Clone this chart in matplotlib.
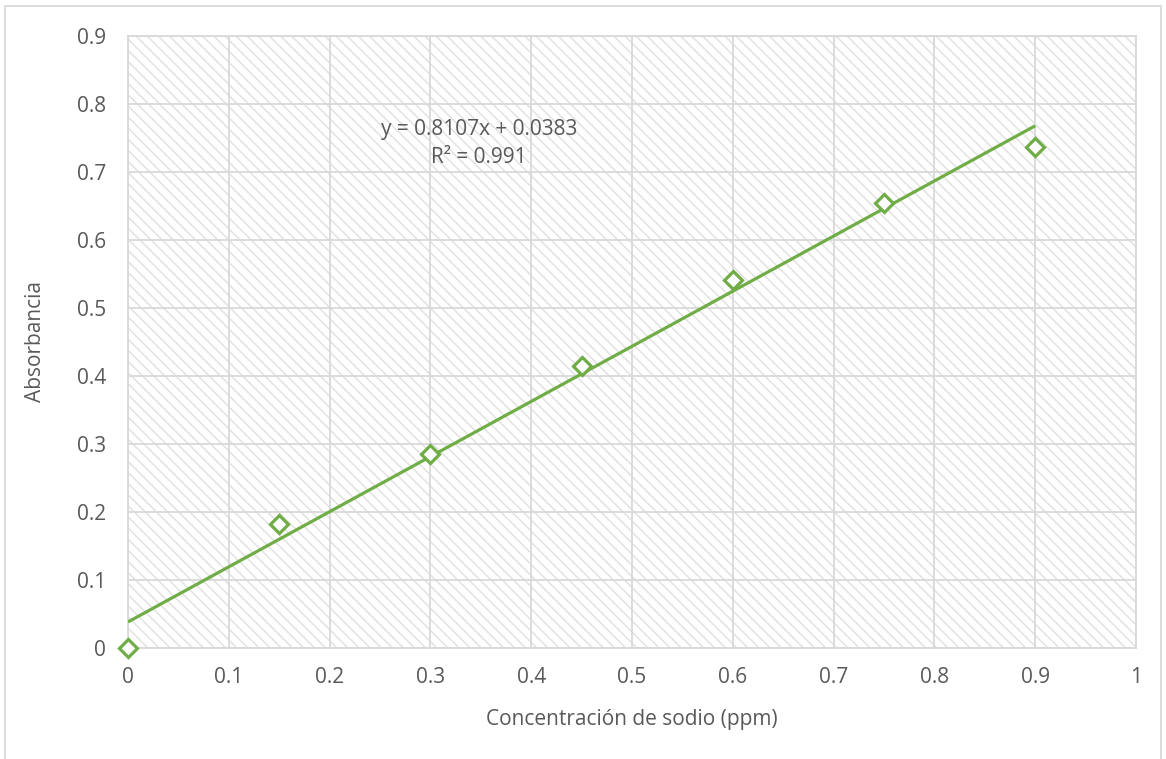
import numpy as np
import matplotlib.pyplot as plt
from matplotlib.patches import Rectangle

# Datos de la curva de calibración
concentracion = [0, 0.15, 0.3, 0.45, 0.6, 0.75, 0.9]
absorbancia = [0, 0.183, 0.286, 0.415, 0.541, 0.654, 0.737]

# Línea de tendencia (ajuste lineal)
pendiente = 0.8107
intercepto = 0.0383
r2 = 0.991

verde = '#70AD47'
gris_texto = '#595959'
gris_linea = '#D9D9D9'

plt.rcParams['font.family'] = ['Open Sans', 'DejaVu Sans']
plt.rcParams['hatch.linewidth'] = 1.1

fig = plt.figure(figsize=(11.66, 7.59), dpi=100)
ax = fig.add_axes([128 / 1166, 1 - 648 / 759, 1008 / 1166, 612 / 759])

# Marco exterior del gráfico
fig.patches.append(Rectangle((5 / 1166, -0.01), 1156 / 1166, 1 - 6 / 759 + 0.01,
                             transform=fig.transFigure, fill=False,
                             edgecolor=gris_linea, linewidth=1.3))

# Fondo rayado del área de trazado
ax.add_patch(Rectangle((0, 0), 1, 1, transform=ax.transAxes, facecolor='none',
                       edgecolor='#E2E2E2', hatch='\\\\\\', linewidth=0, zorder=0))

ax.set_xlim(0, 1)
ax.set_ylim(0, 0.9)
ax.set_xticks(np.arange(0, 1.01, 0.1))
ax.set_yticks(np.arange(0, 0.91, 0.1))
ax.set_xticklabels(['0', '0.1', '0.2', '0.3', '0.4', '0.5', '0.6', '0.7', '0.8', '0.9', '1'])
ax.set_yticklabels(['0', '0.1', '0.2', '0.3', '0.4', '0.5', '0.6', '0.7', '0.8', '0.9'])
ax.grid(True, color=gris_linea, linewidth=1.3, zorder=1)
ax.set_axisbelow(True)
for s in ax.spines.values():
    s.set_color(gris_linea)
    s.set_linewidth(1.3)
ax.tick_params(length=0, labelsize=15, labelcolor=gris_texto)
ax.tick_params(axis='x', pad=14)
ax.tick_params(axis='y', pad=16)

# Línea de tendencia
xt = np.array([0, 0.9])
ax.plot(xt, pendiente * xt + intercepto, color=verde, linewidth=2.3, zorder=3,
        solid_capstyle='butt')

# Puntos experimentales
ax.plot(concentracion, absorbancia, linestyle='none', marker='D', markersize=9,
        markerfacecolor='white', markeredgecolor=verde, markeredgewidth=2.3,
        zorder=4, clip_on=False)

ax.text(0.348, 0.742, 'y = {:.4f}x + {:.4f}\nR² = {}'.format(pendiente, intercepto, r2),
        ha='center', va='center', multialignment='center', fontsize=15,
        color=gris_texto, linespacing=1.4)

ax.set_xlabel('Concentración de sodio (ppm)', fontsize=15, color=gris_texto, labelpad=15)
ax.set_ylabel('Absorbancia', fontsize=15, color=gris_texto, labelpad=22)

fig.savefig('out.png', dpi=100)
